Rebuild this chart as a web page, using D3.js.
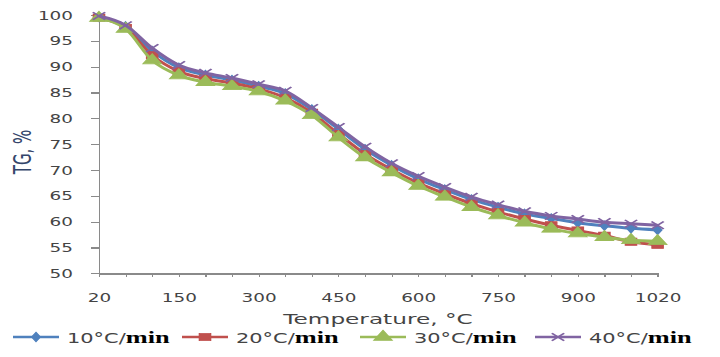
<!DOCTYPE html>
<html>
<head>
<meta charset="utf-8">
<script src="https://cdn.jsdelivr.net/npm/d3@7"></script>
<style>
  body { margin: 0; background: #fff; }
  svg { display: block; }
</style>
</head>
<body>
<div class="chart"></div>
<script>
// Temperature categories (x axis is a category axis)
var temps = [20, 50, 100, 150, 200, 250, 300, 350, 400, 450, 500, 550, 600, 650, 700, 750, 800, 850, 900, 950, 1000, 1020];
var yTicks = [50, 55, 60, 65, 70, 75, 80, 85, 90, 95, 100];

// TG, % for each heating rate
var tg10 = [99.6, 97.8, 93.0, 89.8, 88.4, 87.4, 86.2, 84.8, 81.7, 77.9, 74.0, 70.9, 68.3, 66.2, 64.3, 62.8, 61.5, 60.6, 59.8, 59.2, 58.7, 58.4];
var tg20 = [99.5, 97.5, 92.2, 89.1, 87.7, 86.8, 85.7, 84.0, 81.1, 77.0, 73.1, 70.1, 67.5, 65.4, 63.5, 61.9, 60.5, 59.3, 58.3, 57.3, 56.1, 55.5];
var tg30 = [99.4, 97.3, 91.2, 88.3, 87.0, 86.2, 85.2, 83.4, 80.6, 76.3, 72.4, 69.5, 66.9, 64.8, 62.8, 61.2, 59.8, 58.6, 57.7, 57.0, 56.4, 56.2];
var tg40 = [99.8, 98.0, 93.6, 90.3, 88.8, 87.8, 86.6, 85.3, 82.0, 78.3, 74.5, 71.3, 68.8, 66.7, 64.8, 63.3, 62.0, 61.1, 60.5, 59.9, 59.6, 59.3];

var seriesNames = ["10°C/", "20°C/", "30°C/", "40°C/"];

var width = 720, height = 357;
var SX = 1.6; // the whole picture is stretched sideways

var series = [
  { name: seriesNames[0], values: tg10, color: "#4f81bd", symbol: d3.symbolDiamond, size: 26, fill: true },
  { name: seriesNames[1], values: tg20, color: "#c0504d", symbol: d3.symbolSquare, size: 50, fill: true },
  { name: seriesNames[2], values: tg30, color: "#9bbb59", symbol: d3.symbolTriangle, size: 58, fill: true },
  { name: seriesNames[3], values: tg40, color: "#8064a2", symbol: d3.symbolX, size: 40, fill: false }
];

var svg = d3.select(".chart")
  .append("svg")
    .attr("width", width)
    .attr("height", height);

// scales
var x = d3.scalePoint()
  .domain(temps)
  .range([99, 657.6]);

var y = d3.scaleLinear()
  .domain([50, 100])
  .range([273.3, 15]);

// Y Axis
var yAxisGroup = svg.append("g")
  .attr("class", "y axis")
  .attr("transform", "translate(99,0)")
  .call(d3.axisLeft(y).tickValues(yTicks).tickSize(8).tickSizeOuter(0));

yAxisGroup.select(".domain").attr("stroke", "#8a8a8a").attr("stroke-width", 1.6);
yAxisGroup.selectAll(".tick line").attr("stroke", "#8a8a8a").attr("stroke-width", 1.2);
yAxisGroup.selectAll(".tick text")
  .attr("x", 0)
  .attr("dy", "0.36em")
  .attr("transform", "translate(-26,0) scale(" + SX + ",1)")
  .attr("font-family", "DejaVu Sans")
  .attr("font-size", "11.5px")
  .attr("fill", "#444");

// X Axis
var xAxisGroup = svg.append("g")
  .attr("class", "x axis")
  .attr("transform", "translate(0,273.3)")
  .call(d3.axisBottom(x).tickSize(4).tickSizeOuter(0)
    .tickFormat(function(d, i) { return i % 3 === 0 ? d : ""; }));

xAxisGroup.select(".domain").attr("stroke", "#8a8a8a").attr("stroke-width", 1.6);
xAxisGroup.selectAll(".tick line").attr("stroke", "#8a8a8a").attr("stroke-width", 1.2);
xAxisGroup.selectAll(".tick text")
  .attr("y", 0)
  .attr("dy", "0.36em")
  .attr("transform", "translate(0,25) scale(" + SX + ",1)")
  .attr("font-family", "DejaVu Sans")
  .attr("font-size", "11.5px")
  .attr("fill", "#444");

svg.selectAll(".axis .domain, .axis line").attr("shape-rendering", "crispEdges");

// Y Label
svg.append("text")
  .attr("transform", "translate(31,152) scale(" + SX + ",1) rotate(-90)")
  .attr("text-anchor", "middle")
  .attr("font-family", "DejaVu Sans")
  .attr("font-size", "15px")
  .attr("fill", "#34466b")
  .text("TG, %");

// X Label
svg.append("text")
  .attr("transform", "translate(378,324) scale(" + SX + ",1)")
  .attr("text-anchor", "middle")
  .attr("font-family", "DejaVu Sans")
  .attr("font-size", "14.5px")
  .attr("fill", "#444")
  .text("Temperature, °C");

// lines and markers
var line = d3.line()
  .x(function(d, i) { return x(temps[i]); })
  .y(function(d) { return y(d); })
  .curve(d3.curveMonotoneX);

function marker(sel, s) {
  sel.attr("d", d3.symbol().type(s.symbol).size(s.size))
    .attr("fill", s.fill ? s.color : "none")
    .attr("stroke", s.color)
    .attr("stroke-width", s.fill ? 0.8 : 1.4);
}

series.forEach(function(s) {
  var g = svg.append("g");
  g.append("path")
    .datum(s.values)
    .attr("fill", "none")
    .attr("stroke", s.color)
    .attr("stroke-width", 3)
    .attr("d", line);
  g.selectAll("path.mark")
    .data(s.values)
    .enter()
    .append("path")
      .attr("class", "mark")
      .attr("transform", function(d, i) {
        return "translate(" + x(temps[i]) + "," + y(d) + ") scale(" + SX + ",1)";
      })
      .call(marker, s);
});

// legend
var legendX = [13, 182, 360, 535];
var legend = svg.append("g").attr("transform", "translate(0,337)");
series.forEach(function(s, i) {
  var g = legend.append("g").attr("transform", "translate(" + legendX[i] + ",0)");
  g.append("line")
    .attr("x1", 0).attr("x2", 46)
    .attr("stroke", s.color)
    .attr("stroke-width", 2.5);
  g.append("path")
    .attr("transform", "translate(23,0) scale(" + SX + ",1)")
    .call(marker, s);
  var t = g.append("text")
    .attr("transform", "translate(54,0) scale(1.55,1)")
    .attr("dy", "0.36em")
    .attr("fill", "#444");
  t.append("tspan")
    .attr("font-family", "DejaVu Sans")
    .attr("font-size", "13.5px")
    .text(s.name);
  t.append("tspan")
    .attr("font-family", "Liberation Serif")
    .attr("font-size", "17px")
    .attr("fill", "#000")
    .attr("font-weight", "bold")
    .text("min");
});
</script>
</body>
</html>
